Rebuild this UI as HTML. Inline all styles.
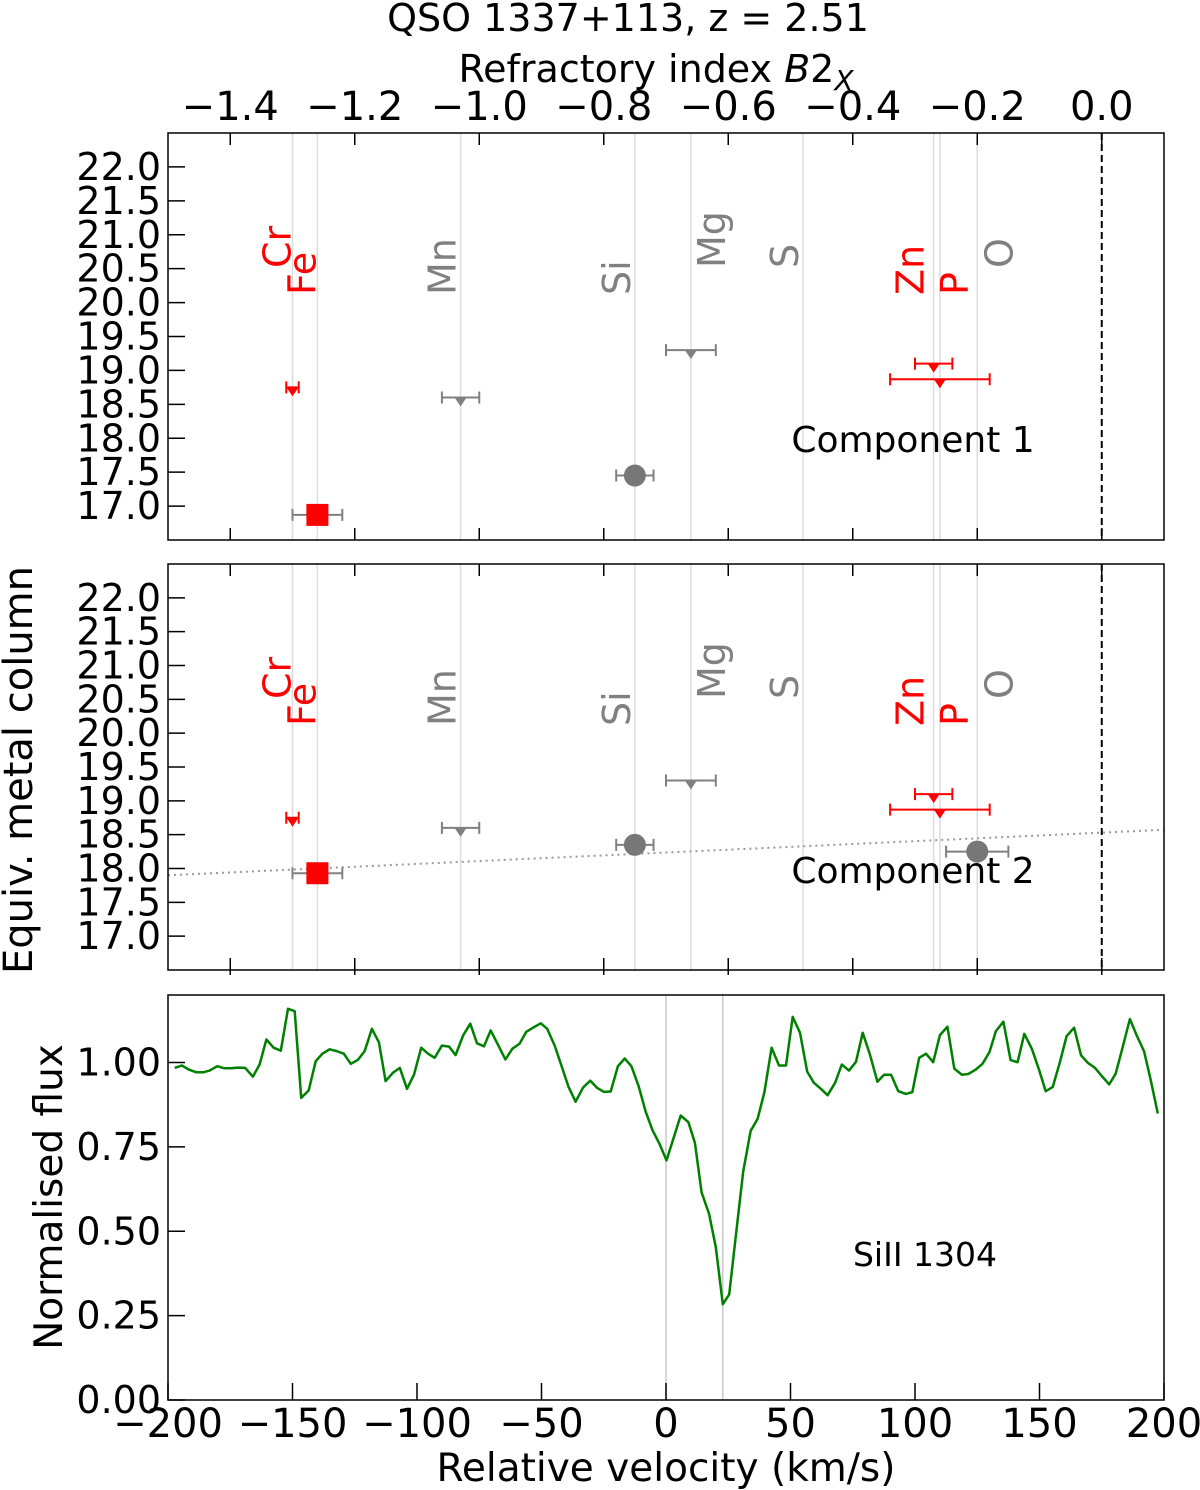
<!DOCTYPE html>
<html><head><meta charset="utf-8"><style>
html,body{margin:0;padding:0;background:#fff}
svg{display:block;font-family:"DejaVu Sans","Liberation Sans",sans-serif}
</style></head><body>
<svg id="fig" width="1200" height="1490" viewBox="0 0 1200 1490" xmlns="http://www.w3.org/2000/svg">
<text x="628" y="31" font-size="38" text-anchor="middle">QSO 1337+113, z = 2.51</text>
<text x="656" y="82" font-size="38" text-anchor="middle">Refractory index <tspan font-style="italic">B</tspan>2<tspan font-style="italic" font-size="28" dy="8">X</tspan></text>
<text transform="translate(32,770) rotate(-90)" font-size="40" text-anchor="middle">Equiv. metal column</text>
<text transform="translate(62,1197) rotate(-90)" font-size="39" text-anchor="middle">Normalised flux</text>
<text x="666" y="1481" font-size="39" text-anchor="middle">Relative velocity (km/s)</text>
<g id="g"></g>
</svg>
<script>
// ---- data ----
const elemNames = ["Cr","Fe","Mn","Si","Mg","S","Zn","P","O"];
const elemB2X = [-1.30,-1.26,-1.03,-0.75,-0.66,-0.48,-0.27,-0.26,-0.20];
const elemRed = [true,true,false,false,false,false,true,true,false];
const elemLabelHigh = [true,false,false,false,true,true,false,false,true];
const elemLabelShift = [0,0,-3,-3,36,-3,-8,30,37];
const topTicks = [-1.4,-1.2,-1.0,-0.8,-0.6,-0.4,-0.2,0.0];
const topTickLabels = ["\u22121.4","\u22121.2","\u22121.0","\u22120.8","\u22120.6","\u22120.4","\u22120.2","0.0"];
const yTicks = [17.0,17.5,18.0,18.5,19.0,19.5,20.0,20.5,21.0,21.5,22.0];
const yTickLabels = ["17.0","17.5","18.0","18.5","19.0","19.5","20.0","20.5","21.0","21.5","22.0"];
const c1Elem = [0,1,2,3,4,6,7];
const c1Val = [18.75,16.87,18.60,17.45,19.30,19.10,18.87];
const c1Err = [0.01,0.04,0.03,0.03,0.04,0.03,0.08];
const c1Kind = ["lim","square","lim","circle","lim","lim","lim"];
const c2Elem = [0,1,2,3,4,6,7,8];
const c2Val = [18.75,17.93,18.60,18.35,19.30,19.10,18.87,18.25];
const c2Err = [0.01,0.04,0.03,0.03,0.04,0.03,0.08,0.05];
const c2Kind = ["lim","square","lim","circle","lim","lim","lim","circle"];
const fitIntercept = [18.53];
const fitSlope = [0.42];
const velTicks = [-200,-150,-100,-50,0,50,100,150,200];
const velTickLabels = ["\u2212200","\u2212150","\u2212100","\u221250","0","50","100","150","200"];
const fluxTicks = [0,0.25,0.5,0.75,1.0];
const fluxTickLabels = ["0.00","0.25","0.50","0.75","1.00"];
const compLines = [0,22.8];
const velocity = [-197.3,-194.4,-191.7,-188.6,-185.9,-183.3,-180.2,-177.5,-174.8,-171.9,-169.0,-165.9,-163.2,-160.5,-157.6,-154.7,-151.8,-149.1,-146.5,-143.5,-140.7,-138.0,-135.1,-132.4,-129.4,-126.6,-123.7,-121.0,-118.1,-115.3,-112.6,-109.6,-106.9,-104.0,-101.2,-98.3,-95.6,-92.9,-90.0,-87.1,-84.5,-81.5,-78.6,-75.9,-73.1,-70.4,-67.5,-64.5,-61.7,-58.8,-56.1,-53.0,-50.3,-47.7,-44.7,-42.0,-39.1,-36.3,-33.3,-30.4,-27.7,-24.9,-22.2,-19.3,-16.6,-13.9,-11.0,-8.2,-5.5,-2.5,0.2,5.9,9.0,11.6,14.3,17.3,20.0,22.8,25.4,28.4,31.0,34.0,36.8,39.5,42.4,45.4,48.2,50.9,53.8,56.7,59.4,62.2,64.9,67.9,70.6,73.5,76.3,79.0,81.9,84.9,87.6,90.4,93.3,96.3,98.9,101.7,104.4,107.3,110.0,113.0,115.8,118.8,121.4,124.4,127.1,129.9,132.5,135.5,138.4,141.2,143.9,146.9,149.8,152.5,155.3,158.2,160.9,163.9,166.7,169.4,172.3,175.0,178.0,180.6,183.5,186.3,189.0,192.0,194.7,197.5];
const flux = [0.984,0.991,0.979,0.971,0.971,0.976,0.989,0.983,0.983,0.985,0.984,0.958,0.994,1.068,1.044,1.035,1.159,1.152,0.895,0.917,1.004,1.026,1.039,1.034,1.026,0.996,1.008,1.034,1.100,1.060,0.945,0.970,0.984,0.922,0.964,1.044,1.026,1.014,1.050,1.047,1.022,1.080,1.115,1.057,1.048,1.095,1.053,1.009,1.041,1.056,1.091,1.105,1.116,1.100,1.050,0.991,0.927,0.884,0.926,0.946,0.925,0.913,0.914,0.989,1.012,0.989,0.930,0.855,0.801,0.757,0.710,0.843,0.823,0.762,0.615,0.551,0.453,0.284,0.313,0.509,0.677,0.798,0.833,0.912,1.044,0.991,0.991,1.135,1.088,0.973,0.940,0.922,0.903,0.940,0.994,0.976,1.002,1.088,1.024,0.943,0.964,0.964,0.915,0.907,0.912,1.014,1.026,1.001,1.081,1.106,0.982,0.964,0.966,0.979,0.996,1.031,1.093,1.121,1.007,1.001,1.085,1.041,0.979,0.915,0.927,1.001,1.078,1.103,1.021,0.999,0.984,0.960,0.935,0.967,1.048,1.129,1.081,1.033,0.947,0.849];

// ---- geometry ----
const L=168,R=1164;
const panels=[{top:133,bot:540},{top:564,bot:970}];
const P3={top:995,bot:1400};
const xB=v=>L+(v+1.5)/1.6*(R-L);
const yM=(p,v)=>p.bot-(v-16.5)/6*(p.bot-p.top);
const xV=v=>L+(v+200)/400*(R-L);
const yF=f=>P3.bot-f/1.2*(P3.bot-P3.top);
const NS="http://www.w3.org/2000/svg";
const G=document.getElementById('g');
function mk(tag,attrs,parent){const e=document.createElementNS(NS,tag);for(const k in attrs)e.setAttribute(k,attrs[k]);(parent||G).appendChild(e);return e;}
const RED="#ff0000",GRAY="#808080";

panels.forEach((p,pi)=>{
  const grp=mk('g',{});
  
  
  elemB2X.forEach((b,i)=>{
    const ln=mk('line',{x1:xB(b),x2:xB(b),y1:p.top,y2:p.bot,stroke:"#dcdcdc","stroke-width":1.5},grp);
    
    
    const ty=p.top+(elemLabelHigh[i]?135:162);
    const t=mk('text',{transform:`translate(${xB(b)-2+elemLabelShift[i]},${ty}) rotate(-90)`,"font-size":38,fill:elemRed[i]?RED:GRAY},grp);
    t.textContent=elemNames[i];
    
    
  });
  const dz=mk('line',{x1:xB(0),x2:xB(0),y1:p.top,y2:p.bot,stroke:"#000","stroke-width":2,"stroke-dasharray":"7,4"},grp);
  
  
  yTicks.forEach((v,i)=>{
    const y=yM(p,v);
    const tk=mk('line',{x1:L,x2:L+17,y1:y,y2:y,stroke:"#000","stroke-width":1.5},grp);
    
    
    const tl=mk('text',{x:161,y:y+13,"font-size":38,"text-anchor":"end"},grp);
    tl.textContent=yTickLabels[i];
    
    
  });
  topTicks.forEach((v,i)=>{
    const x=xB(v);
    const t1=mk('line',{x1:x,x2:x,y1:p.top,y2:p.top+12,stroke:"#000","stroke-width":1.5},grp);
    
    
    const t2=mk('line',{x1:x,x2:x,y1:p.bot-12,y2:p.bot+(pi==1?5:0),stroke:"#000","stroke-width":1.5},grp);
    
    
    if(pi==0){
      const tl=mk('text',{x:x,y:120,"font-size":40,"text-anchor":"middle"},grp);
      tl.textContent=topTickLabels[i];
      
      
    }
  });
  const E=pi==0?c1Elem:c2Elem, V=pi==0?c1Val:c2Val, ER=pi==0?c1Err:c2Err, K=pi==0?c1Kind:c2Kind;
  if(pi==1){
    const fl=mk('line',{x1:L,x2:R,y1:yM(p,fitIntercept[0]+fitSlope[0]*(-1.5)),y2:yM(p,fitIntercept[0]+fitSlope[0]*0.1),stroke:"#999","stroke-width":2,"stroke-dasharray":"2,4"},grp);
    
    
  }
  E.forEach((ei,j)=>{
    const cx=xB(elemB2X[ei]), cy=yM(p,V[j]);
    const col=elemRed[ei]?RED:GRAY;
    const ecol=K[j]=="lim"?col:GRAY;
    const x0=xB(elemB2X[ei]-ER[j]), x1=xB(elemB2X[ei]+ER[j]);
    const eb=mk('path',{d:`M${x0},${cy}H${x1}M${x0},${cy-6}V${cy+6}M${x1},${cy-6}V${cy+6}`,stroke:ecol,"stroke-width":2,fill:"none"},grp);
    
    
    let m;
    if(K[j]=="lim") m=mk('path',{d:`M${cx-6},${cy}L${cx+6},${cy}L${cx},${cy+9}Z`,fill:col},grp);
    else if(K[j]=="square") m=mk('rect',{x:cx-11,y:cy-11,width:22,height:22,fill:col},grp);
    else m=mk('circle',{cx:cx,cy:cy,r:11,fill:"#777"},grp);
    
    
  });
  const ct=mk('text',{x:913,y:p.top+319,"font-size":36,"text-anchor":"middle"},grp);
  ct.textContent='Component '+(pi+1);
  
  
  const fr=mk('rect',{x:L,y:p.top,width:R-L,height:p.bot-p.top,fill:"none",stroke:"#000","stroke-width":1.5},grp);
  
  
});

// spectrum panel
const sg=mk('g',{});


compLines.forEach(v=>{
  const l=mk('line',{x1:xV(v),x2:xV(v),y1:P3.top,y2:P3.bot,stroke:"#c8c8c8","stroke-width":1.5},sg);
  
  
});
const pts=velocity.map((v,i)=>xV(v).toFixed(1)+','+yF(flux[i]).toFixed(1)).join(' ');
const sp=mk('polyline',{points:pts,fill:"none",stroke:"#008000","stroke-width":2.5,"stroke-linejoin":"round"},sg);


fluxTicks.forEach((f,i)=>{
  const y=yF(f);
  const t=mk('line',{x1:L,x2:L+17,y1:y,y2:y,stroke:"#000","stroke-width":1.5},sg);
  
  
  const tl=mk('text',{x:161,y:y+13,"font-size":38,"text-anchor":"end"},sg);
  tl.textContent=fluxTickLabels[i];
  
  
});
velTicks.forEach((v,i)=>{
  const x=xV(v);
  const t=mk('line',{x1:x,x2:x,y1:P3.bot-17,y2:P3.bot,stroke:"#000","stroke-width":1.5},sg);
  
  
  const tl=mk('text',{x:x,y:1437,"font-size":40,"text-anchor":"middle"},sg);
  tl.textContent=velTickLabels[i];
  
  
});
const st=mk('text',{x:925,y:1266,"font-size":33,"text-anchor":"middle"},sg);
st.textContent='SiII 1304';


const sf=mk('rect',{x:L,y:P3.top,width:R-L,height:P3.bot-P3.top,fill:"none",stroke:"#000","stroke-width":1.5},sg);


</script>
</body></html>
